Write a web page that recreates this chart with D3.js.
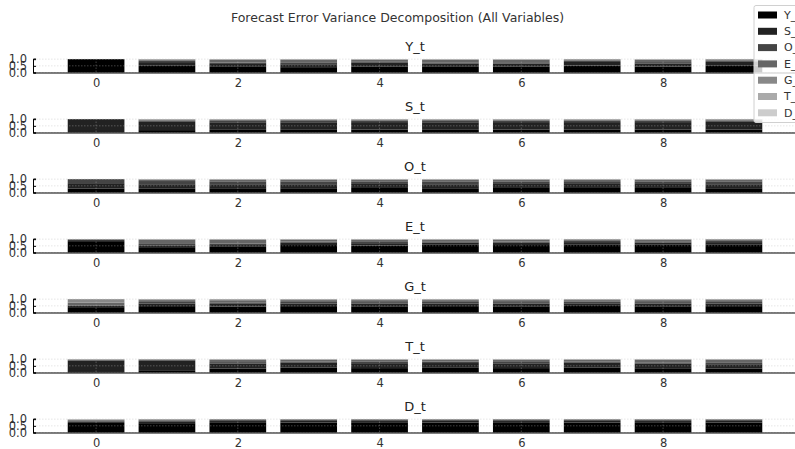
<!DOCTYPE html>
<html>
<head>
<meta charset="utf-8">
<script src="https://cdn.jsdelivr.net/npm/d3@7"></script>
<style>
  body { margin: 0; background: #fff; }
  svg { display: block; font-family: "DejaVu Sans", sans-serif; }
</style>
</head>
<body>
<svg width="795" height="449"></svg>
<script>
// DATA

// shock variables (legend order, bottom to top of each stack)
var shocks = ["Y_t", "S_t", "O_t", "E_t", "G_t", "T_t", "D_t"];
var shockColors = ["#000000", "#222222", "#444444", "#666666", "#888888", "#aaaaaa", "#cccccc"];

// forecast horizons
var periods = [0, 1, 2, 3, 4, 5, 6, 7, 8, 9];
var xTicks = [0, 2, 4, 6, 8];
var yTicks = [0.0, 0.5, 1.0];

// variance shares per horizon, one row per period, columns follow `shocks`
var fevdY = [
  [1.00, 0.00, 0.00, 0.00, 0.00, 0.00, 0.00],
  [0.50, 0.28, 0.10, 0.09, 0.02, 0.01, 0.00],
  [0.42, 0.22, 0.10, 0.20, 0.05, 0.01, 0.00],
  [0.40, 0.22, 0.10, 0.22, 0.05, 0.01, 0.00],
  [0.46, 0.27, 0.11, 0.12, 0.03, 0.01, 0.00],
  [0.42, 0.24, 0.10, 0.19, 0.04, 0.01, 0.00],
  [0.43, 0.24, 0.10, 0.18, 0.04, 0.01, 0.00],
  [0.52, 0.27, 0.10, 0.09, 0.02, 0.00, 0.00],
  [0.44, 0.24, 0.10, 0.17, 0.04, 0.01, 0.00],
  [0.54, 0.26, 0.10, 0.08, 0.02, 0.00, 0.00]
];
var fevdS = [
  [0.03, 0.97, 0.00, 0.00, 0.00, 0.00, 0.00],
  [0.18, 0.62, 0.09, 0.08, 0.02, 0.01, 0.00],
  [0.20, 0.57, 0.10, 0.10, 0.02, 0.01, 0.00],
  [0.20, 0.57, 0.10, 0.10, 0.02, 0.01, 0.00],
  [0.22, 0.56, 0.10, 0.09, 0.02, 0.01, 0.00],
  [0.20, 0.57, 0.10, 0.10, 0.02, 0.01, 0.00],
  [0.22, 0.56, 0.10, 0.09, 0.02, 0.01, 0.00],
  [0.21, 0.57, 0.10, 0.09, 0.02, 0.01, 0.00],
  [0.22, 0.56, 0.10, 0.09, 0.02, 0.01, 0.00],
  [0.22, 0.58, 0.10, 0.08, 0.01, 0.01, 0.00]
];
var fevdO = [
  [0.30, 0.40, 0.30, 0.00, 0.00, 0.00, 0.00],
  [0.28, 0.34, 0.24, 0.11, 0.02, 0.01, 0.00],
  [0.32, 0.30, 0.22, 0.13, 0.02, 0.01, 0.00],
  [0.32, 0.30, 0.22, 0.13, 0.02, 0.01, 0.00],
  [0.34, 0.30, 0.20, 0.13, 0.02, 0.01, 0.00],
  [0.32, 0.30, 0.22, 0.13, 0.02, 0.01, 0.00],
  [0.34, 0.30, 0.20, 0.13, 0.02, 0.01, 0.00],
  [0.34, 0.30, 0.21, 0.12, 0.02, 0.01, 0.00],
  [0.34, 0.30, 0.20, 0.13, 0.02, 0.01, 0.00],
  [0.32, 0.30, 0.22, 0.13, 0.02, 0.01, 0.00]
];
var fevdE = [
  [0.85, 0.08, 0.04, 0.03, 0.00, 0.00, 0.00],
  [0.40, 0.14, 0.10, 0.30, 0.05, 0.01, 0.00],
  [0.42, 0.14, 0.10, 0.28, 0.05, 0.01, 0.00],
  [0.56, 0.17, 0.09, 0.15, 0.02, 0.01, 0.00],
  [0.53, 0.17, 0.09, 0.18, 0.02, 0.01, 0.00],
  [0.58, 0.17, 0.09, 0.13, 0.02, 0.01, 0.00],
  [0.56, 0.17, 0.09, 0.15, 0.02, 0.01, 0.00],
  [0.61, 0.17, 0.09, 0.11, 0.02, 0.00, 0.00],
  [0.58, 0.17, 0.09, 0.13, 0.02, 0.01, 0.00],
  [0.61, 0.17, 0.09, 0.11, 0.02, 0.00, 0.00]
];
var fevdG = [
  [0.40, 0.10, 0.05, 0.20, 0.25, 0.00, 0.00],
  [0.48, 0.20, 0.11, 0.14, 0.06, 0.01, 0.00],
  [0.45, 0.20, 0.11, 0.16, 0.07, 0.01, 0.00],
  [0.48, 0.20, 0.11, 0.14, 0.06, 0.01, 0.00],
  [0.47, 0.20, 0.11, 0.15, 0.06, 0.01, 0.00],
  [0.48, 0.20, 0.11, 0.14, 0.06, 0.01, 0.00],
  [0.47, 0.20, 0.11, 0.15, 0.06, 0.01, 0.00],
  [0.49, 0.20, 0.11, 0.13, 0.06, 0.01, 0.00],
  [0.47, 0.20, 0.11, 0.15, 0.06, 0.01, 0.00],
  [0.48, 0.20, 0.11, 0.14, 0.06, 0.01, 0.00]
];
var fevdT = [
  [0.10, 0.78, 0.05, 0.04, 0.02, 0.01, 0.00],
  [0.12, 0.75, 0.06, 0.05, 0.01, 0.01, 0.00],
  [0.30, 0.38, 0.10, 0.17, 0.04, 0.01, 0.00],
  [0.36, 0.37, 0.10, 0.13, 0.03, 0.01, 0.00],
  [0.33, 0.37, 0.10, 0.16, 0.03, 0.01, 0.00],
  [0.35, 0.36, 0.10, 0.15, 0.03, 0.01, 0.00],
  [0.33, 0.36, 0.10, 0.17, 0.03, 0.01, 0.00],
  [0.36, 0.37, 0.10, 0.13, 0.03, 0.01, 0.00],
  [0.32, 0.34, 0.10, 0.19, 0.04, 0.01, 0.00],
  [0.30, 0.32, 0.10, 0.22, 0.05, 0.01, 0.00]
];
var fevdD = [
  [0.72, 0.10, 0.06, 0.08, 0.02, 0.01, 0.01],
  [0.70, 0.14, 0.07, 0.07, 0.01, 0.01, 0.00],
  [0.72, 0.14, 0.07, 0.06, 0.01, 0.00, 0.00],
  [0.74, 0.13, 0.07, 0.05, 0.01, 0.00, 0.00],
  [0.72, 0.14, 0.07, 0.06, 0.01, 0.00, 0.00],
  [0.74, 0.13, 0.07, 0.05, 0.01, 0.00, 0.00],
  [0.72, 0.14, 0.07, 0.06, 0.01, 0.00, 0.00],
  [0.74, 0.13, 0.07, 0.05, 0.01, 0.00, 0.00],
  [0.72, 0.14, 0.07, 0.06, 0.01, 0.00, 0.00],
  [0.74, 0.13, 0.07, 0.05, 0.01, 0.00, 0.00]
];

var panels = [
  {name: "Y_t", shares: fevdY},
  {name: "S_t", shares: fevdS},
  {name: "O_t", shares: fevdO},
  {name: "E_t", shares: fevdE},
  {name: "G_t", shares: fevdG},
  {name: "T_t", shares: fevdT},
  {name: "D_t", shares: fevdD}
];

// VIEW

var svg = d3.select("svg"),
    width = +svg.attr("width");

var axTop0 = 58.5, axH = 14, rowStep = 60;

// shared x scale, axes run off the right edge like the original
var x = d3.scaleLinear().domain([-0.89, 9.89]).range([33, 797]);
var barW = x(0.8) - x(0);

svg.append("text")
    .attr("x", width / 2)
    .attr("y", 22)
    .attr("text-anchor", "middle")
    .attr("font-size", "12.5px")
    .attr("fill", "#333")
    .text("Forecast Error Variance Decomposition (All Variables)");

var stack = d3.stack()
    .keys(d3.range(shocks.length))
    .value(function(d, k) { return d[k]; });

panels.forEach(function(p, r) {
  var top = axTop0 + r * rowStep;
  var y = d3.scaleLinear().domain([0, 1.05]).range([top + axH, top]);
  var g = svg.append("g");

  // subplot title
  g.append("text")
      .attr("x", (x.range()[0] + x.range()[1]) / 2)
      .attr("y", top - 7.5)
      .attr("text-anchor", "middle")
      .attr("font-size", "13px")
      .attr("fill", "#222")
      .text(p.name);

  // stacked bars
  var layers = stack(p.shares);
  g.append("g").selectAll("g")
    .data(layers)
    .join("g")
      .attr("fill", function(d, i) { return shockColors[i]; })
    .selectAll("rect")
    .data(function(d) { return d; })
    .join("rect")
      .attr("x", function(d, i) { return x(periods[i]) - barW / 2; })
      .attr("width", barW)
      .attr("y", function(d) { return y(d[1]); })
      .attr("height", function(d) { return y(d[0]) - y(d[1]); });

  // dotted grid drawn over the bars
  var grid = g.append("g")
      .attr("stroke", "#bbbbbb")
      .attr("stroke-width", 0.7)
      .attr("stroke-dasharray", "1.5,1.5")
      .attr("opacity", 0.5);
  grid.selectAll(".hg").data(yTicks).join("line")
      .attr("x1", x.range()[0]).attr("x2", x.range()[1])
      .attr("y1", function(d) { return y(d); })
      .attr("y2", function(d) { return y(d); });
  grid.selectAll(".vg").data(xTicks).join("line")
      .attr("x1", function(d) { return x(d); })
      .attr("x2", function(d) { return x(d); })
      .attr("y1", top).attr("y2", top + axH);

  // bottom axis: spine and labels
  var xAxis = d3.axisBottom(x).tickValues(xTicks).tickSize(0).tickPadding(6)
      .tickFormat(d3.format("d"));
  var xg = g.append("g")
      .attr("transform", "translate(0," + (top + axH) + ")")
      .call(xAxis);
  xg.select(".domain").attr("stroke", "#000").attr("stroke-width", 1);
  xg.selectAll("text").attr("font-size", "11.5px").attr("fill", "#333")
      .attr("font-family", "DejaVu Sans, sans-serif");

  // left axis: inward ticks, crowded labels
  var yAxis = d3.axisLeft(y).tickValues(yTicks).tickSize(-3).tickPadding(6)
      .tickFormat(d3.format(".1f"));
  var yg = g.append("g")
      .attr("transform", "translate(" + x.range()[0] + ",0)")
      .call(yAxis);
  yg.select(".domain").attr("stroke", "#000").attr("stroke-width", 1);
  yg.selectAll("line").attr("stroke", "#000");
  yg.selectAll("text").attr("font-size", "11.5px").attr("fill", "#333")
      .attr("font-family", "DejaVu Sans, sans-serif");
});

// legend, cut off by the right edge
var leg = svg.append("g");
leg.append("rect")
    .attr("x", 754).attr("y", 5.5)
    .attr("width", 60).attr("height", 117)
    .attr("rx", 2)
    .attr("fill", "#fff").attr("fill-opacity", 0.8)
    .attr("stroke", "#d0d0d0");
var item = leg.selectAll(".item")
    .data(shocks)
    .join("g")
      .attr("transform", function(d, i) { return "translate(758," + (15 + i * 16.3) + ")"; });
item.append("rect")
    .attr("x", 0).attr("y", -3.5)
    .attr("width", 19).attr("height", 7)
    .attr("fill", function(d, i) { return shockColors[i]; });
item.append("text")
    .attr("x", 26).attr("y", 0)
    .attr("dy", "0.35em")
    .attr("font-size", "11px")
    .attr("fill", "#333")
    .text(function(d) { return d; });
</script>
</body>
</html>
